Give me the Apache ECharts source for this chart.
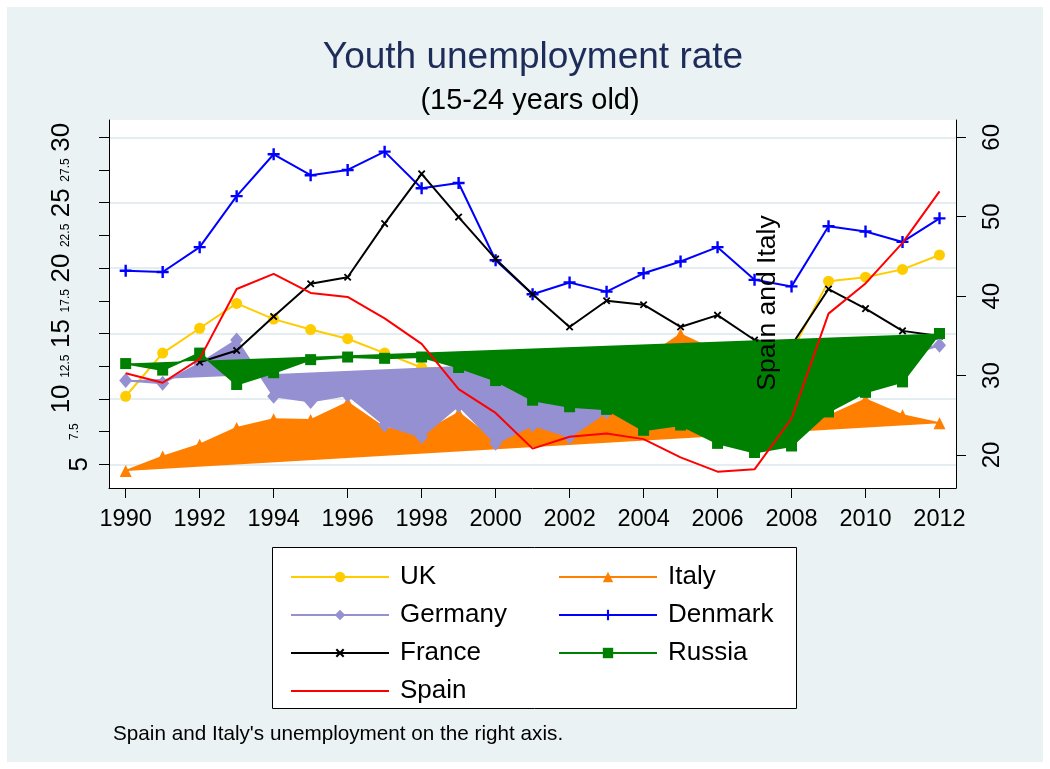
<!DOCTYPE html>
<html>
<head>
<meta charset="utf-8">
<script src="https://cdn.jsdelivr.net/npm/echarts@6/dist/echarts.min.js"></script>
<style>
  html, body { margin: 0; padding: 0; background: #ffffff; }
  #chart { width: 1050px; height: 769px; }
</style>
</head>
<body>
<div id="chart"></div>
<script>
// Youth unemployment rate (15-24 years old), 1990-2012
const years = [1990, 1991, 1992, 1993, 1994, 1995, 1996, 1997, 1998, 1999, 2000, 2001,
               2002, 2003, 2004, 2005, 2006, 2007, 2008, 2009, 2010, 2011, 2012];

// left axis (%)
const uk      = [10.2, 13.5, 15.4, 17.3, 16.1, 15.3, 14.6, 13.5, 12.4, 12.2, 11.8, 10.8,
                 11.2, 11.6, 11.8, 12.3, 12.6, 12.9, 13.6, 19.0, 19.3, 19.9, 21.0];
const germany = [11.4, 11.2, 12.7, 14.5, 10.2, 9.8, 10.3, 8.0, 7.1, 9.5, 6.6, 8.0,
                 7.1, 9.0, 11.0, 11.6, 12.0, 12.2, 12.0, 12.4, 12.8, 13.2, 14.1];
const denmark = [19.8, 19.7, 21.6, 25.5, 28.7, 27.1, 27.5, 28.9, 26.1, 26.5, 20.6, 18.0,
                 18.9, 18.2, 19.6, 20.5, 21.6, 19.1, 18.6, 23.2, 22.8, 22.0, 23.8];
const france  = [null, null, 12.8, 13.7, 16.3, 18.8, 19.3, 23.4, 27.2, 23.9, 20.7, 18.0,
                 15.5, 17.5, 17.2, 15.5, 16.4, 14.5, 14.1, 18.4, 16.9, 15.2, 14.8];
const russia  = [12.7, 12.2, 13.5, 11.1, 12.0, 13.0, 13.2, 13.1, 13.2, 12.4, 11.4, 9.9,
                 9.4, 9.2, 7.6, 8.0, 6.6, 5.9, 6.4, 9.0, 10.5, 11.3, 15.0];

// right axis (%)
const italy   = [18.0, 19.8, 21.3, 23.4, 24.5, 24.4, 26.6, 23.4, 22.7, 25.3, 21.7, 23.6,
                 22.2, 25.2, 32.0, 35.2, 33.0, 27.0, 22.2, 24.9, 27.0, 25.0, 24.0];
const spain   = [30.3, 29.1, 32.1, 40.9, 42.8, 40.4, 39.9, 37.2, 34.0, 28.3, 25.3, 20.8,
                 22.3, 22.7, 22.0, 19.7, 17.9, 18.2, 24.6, 37.8, 41.6, 46.7, 53.2];

// axis ticks
const yearTicks  = [1990, 1992, 1994, 1996, 1998, 2000, 2002, 2004, 2006, 2008, 2010, 2012];
const leftTicks  = [5, 7.5, 10, 12.5, 15, 17.5, 20, 22.5, 25, 27.5, 30];
const leftMajor  = [5, 10, 15, 20, 25, 30];
const rightTicks = [20, 30, 40, 50, 60];

const FONT = '"Liberation Sans", Arial, Helvetica, sans-serif';
const BG = '#eaf2f3';

const pairs = values => years.map((y, i) => [y, values[i]]);

const plus = 'path://M4,0H6V4H10V6H6V10H4V6H0V4H4Z';

// drawing order: each series sits above the ones listed before it
let layer = 1;

function lineSeries(name, values, color, symbol, size, yAxisIndex, extra) {
  return Object.assign({
    type: 'line',
    name: name,
    z: layer++,
    data: pairs(values),
    xAxisIndex: 0,
    yAxisIndex: yAxisIndex,
    symbol: symbol,
    symbolSize: size,
    showSymbol: symbol !== 'none',
    showAllSymbol: true,
    connectNulls: false,
    lineStyle: { color: color, width: 2 },
    itemStyle: { color: color },
    emphasis: { disabled: true },
    silent: true,
    animation: false
  }, extra || {});
}

// filled polygon closed from the last year back to the first one
function areaSeries(name, values, color, yAxisIndex) {
  return {
    type: 'custom',
    name: name + ' area',
    z: layer++,
    xAxisIndex: 0,
    yAxisIndex: yAxisIndex,
    data: [[years[0], values[0]]],
    silent: true,
    animation: false,
    renderItem: function (params, api) {
      const points = years.map((y, i) => api.coord([y, values[i]]));
      return { type: 'polygon', shape: { points: points }, style: { fill: color } };
    }
  };
}

const colors = {
  uk: '#ffcc00', italy: '#ff7f00', germany: '#9590d2', denmark: '#0000ff',
  france: '#000000', russia: '#008000', spain: '#ff0000'
};

const series = [
  lineSeries('UK', uk, colors.uk, 'circle', 11, 0),
  areaSeries('Italy', italy, colors.italy, 1),
  lineSeries('Italy', italy, colors.italy, 'triangle', 12, 1),
  areaSeries('Germany', germany, colors.germany, 0),
  lineSeries('Germany', germany, colors.germany, 'diamond', [13, 15], 0),
  lineSeries('Denmark', denmark, colors.denmark, plus, 12, 0),
  lineSeries('France', france, colors.france, plus, 9, 0, { symbolRotate: 45 }),
  areaSeries('Russia', russia, colors.russia, 0),
  lineSeries('Russia', russia, colors.russia, 'rect', 11, 0),
  lineSeries('Spain', spain, colors.spain, 'none', 0, 1)
];

// left-axis label styles: the two lowest labels sit closer to the axis
function leftLabel(v) {
  const major = leftMajor.indexOf(v) >= 0;
  const low = v < 10;
  const style = (major ? 'big' : 'small') + (low ? 'Near' : '');
  return '{' + style + '|' + v + '}';
}

const chart = echarts.init(document.getElementById('chart'), null, { renderer: 'canvas' });

const legendText = { fontSize: 26, lineHeight: 25, color: '#000', fontFamily: FONT, padding: [0, 0, 0, 6] };

chart.setOption({
  backgroundColor: '#ffffff',
  animation: false,
  textStyle: { fontFamily: FONT },
  grid: {
    left: 109, right: 94, top: 120, bottom: 281,
    show: true, backgroundColor: '#ffffff', borderWidth: 0
  },
  xAxis: {
    type: 'value', min: 1989.549, max: 2012.446,
    axisLine: { show: true, onZero: false, lineStyle: { color: '#000', width: 1 } },
    axisTick: { show: true, length: 10, customValues: yearTicks, lineStyle: { color: '#000' } },
    axisLabel: { customValues: yearTicks, formatter: v => String(v), fontSize: 23.5, color: '#000', margin: 20, fontFamily: FONT },
    splitLine: { show: false }
  },
  yAxis: [
    {
      type: 'value', position: 'left', min: 3.188, max: 31.32,
      axisLine: { show: true, onZero: false, lineStyle: { color: '#000', width: 1 } },
      axisTick: { show: true, length: 10, customValues: leftTicks, lineStyle: { color: '#000' } },
      axisLabel: {
        customValues: leftTicks, rotate: 90, margin: 16, color: '#000',
        formatter: leftLabel,
        rich: {
          big: { fontSize: 26, fontFamily: FONT, color: '#000', padding: [0, 0, 18, 0] },
          small: { fontSize: 12, fontFamily: FONT, color: '#000', padding: [0, 0, 21, 0] },
          bigNear: { fontSize: 26, fontFamily: FONT, color: '#000', padding: [0, 0, 0, 0] },
          smallNear: { fontSize: 12, fontFamily: FONT, color: '#000', padding: [0, 0, 12, 0] }
        }
      },
      splitLine: { show: false }
    },
    {
      type: 'value', position: 'right', min: 15.845, max: 62.18,
      axisLine: { show: true, onZero: false, lineStyle: { color: '#000', width: 1 } },
      axisTick: { show: true, length: 10, customValues: rightTicks, lineStyle: { color: '#000' } },
      axisLabel: { customValues: rightTicks, rotate: 90, margin: 24, fontSize: 24, color: '#000', fontFamily: FONT },
      splitLine: { show: false }
    },
    {
      // grid lines at the major left-axis values
      type: 'value', position: 'left', min: 3.188, max: 31.32,
      axisLine: { show: false },
      axisTick: { show: false, customValues: leftMajor },
      axisLabel: { show: false, customValues: leftMajor },
      splitLine: { show: true, lineStyle: { color: '#e4edef', width: 2 } }
    }
  ],
  legend: [
    {
      orient: 'vertical', left: 285, top: 559, itemWidth: 98, itemHeight: 13, itemGap: 12,
      selectedMode: false, textStyle: legendText,
      data: ['UK', 'Germany', 'France', { name: 'Spain', itemStyle: { opacity: 0 } }]
    },
    {
      orient: 'vertical', left: 553, top: 559, itemWidth: 98, itemHeight: 13, itemGap: 12,
      selectedMode: false, textStyle: legendText,
      data: ['Italy', 'Denmark', 'Russia']
    }
  ],
  graphic: [
    { type: 'rect', z: -10, shape: { x: 7, y: 7, width: 1036, height: 755 }, style: { fill: BG } },
    { type: 'rect', z: 3, shape: { x: 272.5, y: 547.5, width: 524, height: 161 },
      style: { fill: '#ffffff', stroke: '#000000', lineWidth: 1 } },
    { type: 'text', z: 50, x: 533, y: 58,
      style: { text: 'Youth unemployment rate', fontSize: 37, fontFamily: FONT, fill: '#1e2c5a', align: 'center', verticalAlign: 'middle' } },
    { type: 'text', z: 50, x: 530, y: 101,
      style: { text: '(15-24 years old)', fontSize: 29, fontFamily: FONT, fill: '#000', align: 'center', verticalAlign: 'middle' } },
    { type: 'text', z: 50, x: 113, y: 734,
      style: { text: "Spain and Italy's unemployment on the right axis.", fontSize: 20.7, fontFamily: FONT, fill: '#000', align: 'left', verticalAlign: 'middle' } },
    { type: 'text', z: 50, x: 768, y: 303, rotation: Math.PI / 2,
      style: { text: 'Spain and Italy', fontSize: 26.5, fontFamily: FONT, fill: '#000', align: 'center', verticalAlign: 'middle' } }
  ],
  series: series
});
</script>
</body>
</html>
